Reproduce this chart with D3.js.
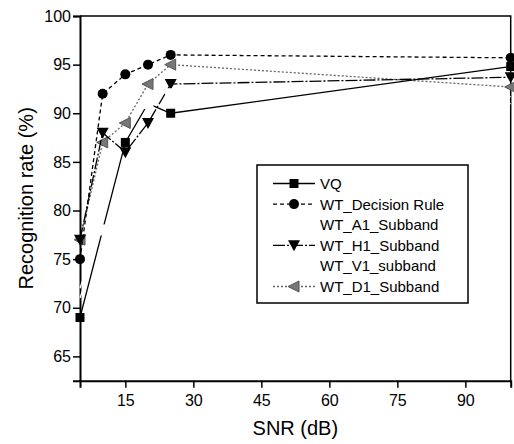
<!DOCTYPE html>
<html>
<head>
<meta charset="utf-8">
<script src="https://cdn.jsdelivr.net/npm/d3@7"></script>
<style>
  body { margin: 0; background: #fff; }
  svg { display: block; font-family: "Liberation Sans", Arial, sans-serif; }
</style>
</head>
<body>
<svg id="chart" width="514" height="444"></svg>
<script>
const snr = [5, 10, 15, 20, 25, 100];
const vq = [69, 78, 87, 91, 90, 94.8];
const decisionRule = [75, 92, 94, 95, 96, 95.7];
const a1Subband = [71, 78, 82, 91, 92, 91.7];
const h1Subband = [77, 88, 86, 89, 93, 93.7];
const v1Subband = [72, 79, 84, 90.5, 91, 91];
const d1Subband = [77, 87, 89, 93, 95, 92.7];

const xMajor = [15, 30, 45, 60, 75, 90];
const xMinor = [7.5, 22.5, 37.5, 52.5, 67.5, 82.5, 97.5];
const yMajor = [65, 70, 75, 80, 85, 90, 95, 100];
const yMinor = [67.5, 72.5, 77.5, 82.5, 87.5, 92.5, 97.5];

const series = [
  { name: "VQ", values: vq, stroke: "#000", dash: null, marker: "square", fill: "#000" },
  { name: "WT_Decision Rule", values: decisionRule, stroke: "#000", dash: "4,3", marker: "circle", fill: "#000" },
  { name: "WT_A1_Subband", values: a1Subband, stroke: "#fff", dash: null, marker: "blank", fill: "#fff" },
  { name: "WT_H1_Subband", values: h1Subband, stroke: "#000", dash: "12,2,2,2", marker: "down", fill: "#000" },
  { name: "WT_V1_subband", values: v1Subband, stroke: "#fff", dash: null, marker: "none", fill: "#fff" },
  { name: "WT_D1_Subband", values: d1Subband, stroke: "#666", dash: "2,2", marker: "left", fill: "#777" },
];

const svg = d3.select("#chart");
const x = d3.scaleLinear().domain([5, 100]).range([80, 510.7]);
const y = d3.scaleLinear().domain([62.5, 100]).range([380.7, 16]);

// frame
svg.append("path")
  .attr("d", `M${x(5)},${y(100)}H${x(100)}V${y(62.5)}`)
  .attr("fill", "none").attr("stroke", "#000").attr("stroke-width", 1.5);

// axes
const xAxis = svg.append("g").attr("transform", `translate(0,${y(62.5)})`);
xAxis.call(d3.axisBottom(x).tickValues(xMinor).tickSize(4).tickFormat(""));
xAxis.call(d3.axisBottom(x).tickValues(xMajor).tickSize(7).tickFormat(d3.format("d")));
xAxis.selectAll("path.domain").attr("stroke-width", 2);
xAxis.selectAll("line").attr("stroke-width", 1.5);
xAxis.selectAll("text").attr("font-size", 16).attr("font-family", "Liberation Sans, Arial").attr("fill", "#000").attr("dy", "0.71em").attr("y", 14);

const yAxis = svg.append("g").attr("transform", `translate(${x(5)},0)`);
yAxis.call(d3.axisLeft(y).tickValues(yMinor).tickSize(4).tickFormat(""));
yAxis.call(d3.axisLeft(y).tickValues(yMajor).tickSize(7).tickFormat(d3.format("d")));
yAxis.selectAll("path.domain").attr("stroke-width", 2);
yAxis.selectAll("line").attr("stroke-width", 1.5);
yAxis.selectAll("text").attr("font-size", 16).attr("font-family", "Liberation Sans, Arial").attr("fill", "#000").attr("x", -9);

// axis titles
svg.append("text")
  .attr("x", (x(5) + x(100)) / 2).attr("y", 435)
  .attr("text-anchor", "middle").attr("font-size", 20)
  .text("SNR (dB)");
svg.append("text")
  .attr("transform", `translate(33,${(y(62.5) + y(100)) / 2}) rotate(-90)`)
  .attr("text-anchor", "middle").attr("font-size", 20)
  .text("Recognition rate (%)");

function drawMarker(g, type, cx, cy, fill, stroke) {
  if (type === "square") {
    g.append("rect").attr("x", cx - 4.5).attr("y", cy - 4.5).attr("width", 9).attr("height", 9).attr("fill", fill);
  } else if (type === "circle") {
    g.append("circle").attr("cx", cx).attr("cy", cy).attr("r", 5).attr("fill", fill);
  } else if (type === "down") {
    g.append("path").attr("d", `M${cx - 6},${cy - 5}L${cx + 6},${cy - 5}L${cx},${cy + 6}Z`).attr("fill", fill);
  } else if (type === "left") {
    g.append("path").attr("d", `M${cx - 6},${cy}L${cx + 5},${cy - 5.5}L${cx + 5},${cy + 5.5}Z`)
      .attr("fill", fill).attr("stroke", stroke).attr("stroke-width", 1);
  } else if (type === "blank") {
    g.append("rect").attr("x", cx - 5.5).attr("y", cy - 5.5).attr("width", 11).attr("height", 11).attr("fill", fill);
  }
}

const line = d3.line().x((d) => x(d[0])).y((d) => y(d[1]));
const plot = svg.append("g");

// invisible (white) subbands sit underneath
const order = [2, 4, 5, 3, 1, 0];
order.forEach((i) => {
  const s = series[i];
  const pts = snr.map((v, j) => [v, s.values[j]]);
  plot.append("path")
    .attr("d", line(pts))
    .attr("fill", "none")
    .attr("stroke", s.stroke)
    .attr("stroke-width", 1.3)
    .attr("stroke-dasharray", s.dash);
  if (s.marker !== "blank") {
    pts.forEach((p) => drawMarker(plot, s.marker, x(p[0]), y(p[1]), s.fill, "#555"));
  }
});
// white A1 markers drawn on top, hiding what lies beneath (only inside the frame)
const a1 = series[2];
snr.slice(1, 5).forEach((v, j) => drawMarker(plot, "blank", x(v), y(a1.values[j + 1]), "#fff"));

// legend
const legend = svg.append("g");
legend.append("rect")
  .attr("x", 257).attr("y", 165).attr("width", 211).attr("height", 138)
  .attr("fill", "#fff").attr("stroke", "#000").attr("stroke-width", 1.5);

series.forEach((s, i) => {
  const ly = 183.5 + i * 20.6;
  const row = legend.append("g");
  if (s.stroke !== "#fff") {
    row.append("line")
      .attr("x1", 273).attr("x2", 315).attr("y1", ly).attr("y2", ly)
      .attr("stroke", s.stroke).attr("stroke-width", 1.3)
      .attr("stroke-dasharray", s.dash);
    drawMarker(row, s.marker, 294, ly, s.fill, "#555");
  }
  row.append("text")
    .attr("x", 320).attr("y", ly).attr("dy", "0.36em")
    .attr("font-size", 15)
    .text(s.name);
});
</script>
</body>
</html>
